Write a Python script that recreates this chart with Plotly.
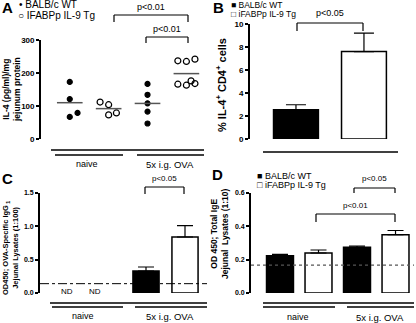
import plotly.graph_objects as go

W, H = 416, 323
FONT = "Liberation Sans, Arial, sans-serif"

# ---------------- data ----------------
# Panel A: IL-4 (pg/ml)/mg jejunum protein, individual mice
a_groups = ["WT naive", "Tg naive", "WT OVA", "Tg OVA"]
a_wt_naive = [173, 121, 67, 79]
a_tg_naive = [112, 104, 73, 79]
a_wt_ova = [167, 134, 108, 83, 47]
a_tg_ova = [237, 235, 242, 166, 163, 176, 168]
# horizontal jitter (category units) so overlapping dots are visible
a_wt_naive_jit = [0, 0, 0, 0.2]
a_tg_naive_jit = [-0.22, 0, 0, 0.2]
a_wt_ova_jit = [0, 0, 0, 0, 0]
a_tg_ova_jit = [-0.22, 0, 0.22, -0.22, 0, 0.12, 0.22]

# Panel B: % IL-4+ CD4+ cells
b_groups = ["BALB/c WT", "iFABPp IL-9 Tg"]
b_mean = [2.55, 7.6]
b_err = [0.43, 1.6]

# Panel C: OVA-specific IgG1 (OVA groups only; naive ND)
c_mean = [0.33, 0.84]
c_err = [0.06, 0.17]
c_cutoff = 0.14

# Panel D: total IgE
d_wt = [0.223, 0.274]
d_tg = [0.240, 0.350]
d_wt_err = [0.009, 0.008]
d_tg_err = [0.018, 0.025]
d_cutoff = 0.167

group_labels = ["naive", "5x i.g. OVA"]
legend_labels = ["BALB/c WT", "iFABPp IL-9 Tg"]

# ---------------- layout helpers ----------------
def px(x):
    return x / W

def py(y):
    return 1 - y / H

panels = {
    "A": dict(x=(41, 207), xr=(-0.74, 3.53), y=(139, 40), yr=(0, 300)),
    "B": dict(x=(250, 400), xr=(-0.676, 1.53), y=(139, 24), yr=(0, 10)),
    "C": dict(x=(40, 207), xr=(-0.718, 3.564), y=(293, 193), yr=(0, 1.5)),
    "D": dict(x=(251, 414), xr=(-0.753, 3.48), y=(293, 193), yr=(0, 0.6)),
}

fig = go.Figure()
shapes = []
annots = []

def line_px(x0, y0, x1, y1, width=1.5, color="black", dash="solid"):
    shapes.append(dict(type="line", xref="paper", yref="paper",
                       x0=px(x0), y0=py(y0), x1=px(x1), y1=py(y1),
                       line=dict(color=color, width=width, dash=dash)))

def text_px(x, y, t, size=9, angle=0, bold=False, xanchor="center"):
    annots.append(dict(xref="paper", yref="paper", x=px(x), y=py(y), text=t,
                       showarrow=False, textangle=angle, xanchor=xanchor,
                       yanchor="middle",
                       font=dict(family=FONT, size=size, color="#000000",
                                 weight="bold" if bold else "normal")))

def bracket(x0, x1, ytop, ybot, label, ylab, size=9):
    line_px(x0, ybot, x0, ytop, 1.2)
    line_px(x0, ytop, x1, ytop, 1.2)
    line_px(x1, ytop, x1, ybot, 1.2)
    text_px((x0 + x1) / 2, ylab, label, size=size)

# ---------------- Panel A ----------------
pos = [0, 1, 2, 3]
series_a = [
    (a_wt_naive, a_wt_naive_jit, pos[0], "circle", 5),
    (a_tg_naive, a_tg_naive_jit, pos[1], "circle-open", 6),
    (a_wt_ova, a_wt_ova_jit, pos[2], "circle", 5),
    (a_tg_ova, a_tg_ova_jit, pos[3], "circle-open", 6),
]
for vals, jit, p, sym, sz in series_a:
    fig.add_trace(go.Scatter(x=[p + j for j in jit], y=vals, mode="markers",
                             marker=dict(symbol=sym, size=sz, color="black",
                                         line=dict(width=1.2, color="black")),
                             xaxis="x", yaxis="y", showlegend=False,
                             cliponaxis=False))
    m = sum(vals) / len(vals)
    fig.add_trace(go.Scatter(x=[p - 0.33, p + 0.33], y=[m, m], mode="lines",
                             line=dict(color="#555555", width=1.5),
                             xaxis="x", yaxis="y", showlegend=False))

# ---------------- Panel B ----------------
for i, (v, e, fill) in enumerate(zip(b_mean, b_err, ["black", "white"])):
    fig.add_trace(go.Bar(x=[i], y=[v], width=0.66,
                         marker=dict(color=fill, line=dict(color="black", width=1.5)),
                         error_y=dict(type="data", symmetric=False, array=[e],
                                      arrayminus=[0], color="black",
                                      thickness=1.2, width=10),
                         xaxis="x2", yaxis="y2", showlegend=False))

# ---------------- Panel C ----------------
for i, (v, e, fill) in enumerate(zip(c_mean, c_err, ["black", "white"])):
    fig.add_trace(go.Bar(x=[2 + i], y=[v], width=0.67,
                         marker=dict(color=fill, line=dict(color="black", width=1.5)),
                         error_y=dict(type="data", symmetric=False, array=[e],
                                      arrayminus=[0], color="black",
                                      thickness=1.2, width=8),
                         xaxis="x3", yaxis="y3", showlegend=False))
fig.add_trace(go.Scatter(x=[-0.718, 3.564], y=[c_cutoff, c_cutoff], mode="lines",
                         line=dict(color="black", width=1, dash="dashdot"),
                         xaxis="x3", yaxis="y3", showlegend=False))

# ---------------- Panel D ----------------
d_pos_wt = [0, 2]
d_pos_tg = [1, 3]
fig.add_trace(go.Bar(x=d_pos_wt, y=d_wt, width=0.7,
                     marker=dict(color="black", line=dict(color="black", width=1.5)),
                     error_y=dict(type="data", symmetric=False, array=d_wt_err,
                                  arrayminus=[0, 0], color="black", thickness=1.2, width=8),
                     xaxis="x4", yaxis="y4", showlegend=False))
fig.add_trace(go.Bar(x=d_pos_tg, y=d_tg, width=0.7,
                     marker=dict(color="white", line=dict(color="black", width=1.5)),
                     error_y=dict(type="data", symmetric=False, array=d_tg_err,
                                  arrayminus=[0, 0], color="black", thickness=1.2, width=8),
                     xaxis="x4", yaxis="y4", showlegend=False))
fig.add_trace(go.Scatter(x=[-0.753, 3.48], y=[d_cutoff, d_cutoff], mode="lines",
                         line=dict(color="#555555", width=1.2, dash="dot"),
                         xaxis="x4", yaxis="y4", showlegend=False))

# ---------------- axes ----------------
layout_axes = {}
ticks = {
    "A": ([0, 100, 200, 300], ["0", "100", "200", "300"]),
    "B": ([0, 2, 4, 6, 8, 10], ["0", "2", "4", "6", "8", "10"]),
    "C": ([0, 0.5, 1.0, 1.5], ["0.0", "0.5", "1.0", "1.5"]),
    "D": ([0, 0.2, 0.4, 0.6], ["0.0", "0.2", "0.4", "0.6"]),
}
for k, (name, p) in enumerate(panels.items()):
    sfx = "" if k == 0 else str(k + 1)
    layout_axes["xaxis" + sfx] = dict(
        domain=[px(p["x"][0]), px(p["x"][1])], range=list(p["xr"]),
        visible=False, anchor="y" + sfx, fixedrange=True)
    tv, tt = ticks[name]
    layout_axes["yaxis" + sfx] = dict(
        domain=[py(p["y"][0]), py(p["y"][1])], range=list(p["yr"]),
        anchor="x" + sfx, showline=True, linecolor="black", linewidth=1.8,
        ticks="outside", ticklen=3, tickwidth=1.5, tickcolor="black",
        tickvals=tv, ticktext=tt, showgrid=False, zeroline=False,
        tickfont=dict(family=FONT, size=8 if name in "AB" else 7,
                      color="#000000", weight="bold"),
        fixedrange=True)

# ---------------- decorations ----------------
# panel letters
text_px(7, 8, "A", size=15, bold=True)
text_px(218, 8, "B", size=15, bold=True)
text_px(7, 178, "C", size=15, bold=True)
text_px(217, 174, "D", size=15, bold=True)

# legend A
text_px(17, 4.5, "\u2022 " + legend_labels[0], size=10, xanchor="left")
text_px(16, 15.5, "\u25CB " + "IFABPp IL-9 Tg", size=10, xanchor="left")
# legend B
text_px(229, 5, "\u25A0 " + legend_labels[0], size=8.5, xanchor="left")
text_px(229, 14.5, "\u25A1 " + legend_labels[1], size=8.5, xanchor="left")
# legend D
text_px(255, 176, "\u25A0 " + legend_labels[0], size=9, xanchor="left")
text_px(255, 185, "\u25A1 " + legend_labels[1], size=9, xanchor="left")

# y titles
text_px(11, 90, "IL-4 (\u03C1g/ml)/mg<br>jejunum protein", size=8.5, angle=-90, bold=True)
text_px(221, 85, "% IL-4<sup>+</sup> CD4<sup>+</sup> cells", size=11, angle=-90, bold=True)
text_px(10, 248, "OD450; OVA-Specific IgG<sub> 1</sub><br>Jejunal Lysates (1:100)",
        size=7.5, angle=-90, bold=True)
text_px(219, 234, "OD 450; Total IgE<br>Jejunal  Lysates (1:10)", size=8.5,
        angle=-90, bold=True)

# group lines A
line_px(51, 150, 204, 150, 1.5)
line_px(55, 155, 123, 155, 1.5)
line_px(137, 155, 204, 155, 1.5)
text_px(87, 164, group_labels[0], size=9)
text_px(170, 164, group_labels[1], size=9.5)
# line B
line_px(263, 152, 398, 152, 1.5)
# group lines C
line_px(50, 303, 207, 303, 1.5)
line_px(52, 307, 123, 307, 1.5)
line_px(135, 307, 207, 307, 1.5)
text_px(83, 316, group_labels[0], size=9)
text_px(170, 316, group_labels[1], size=9.5)
# group lines D
line_px(263, 303, 414, 303, 1.5)
line_px(263, 307, 335, 307, 1.5)
line_px(347, 307, 414, 307, 1.5)
text_px(298, 317, group_labels[0], size=9)
text_px(380, 317, group_labels[1], size=9.5)

# ND labels in C
text_px(67, 291, "ND", size=8)
text_px(95, 291, "ND", size=8)

# significance brackets
bracket(114, 188, 15, 22, "p<0.01", 7)
bracket(146, 188, 37, 43, "p<0.01", 29)
bracket(297, 363, 23, 31, "p<0.05", 13, size=9)
bracket(145, 184, 187, 194, "p<0.05", 178, size=8)
bracket(354, 395, 188, 193, "p<0.05", 178, size=8)
bracket(316, 395, 214, 222, "p<0.01", 205, size=8)

fig.update_layout(
    template="none",
    width=W, height=H, margin=dict(l=0, r=0, t=0, b=0),
    paper_bgcolor="white", plot_bgcolor="white",
    font=dict(family=FONT, color="#000000"),
    shapes=shapes, annotations=annots, showlegend=False,
    barmode="overlay",
    **layout_axes,
)

fig.write_html("out.html", config={"displayModeBar": False})
